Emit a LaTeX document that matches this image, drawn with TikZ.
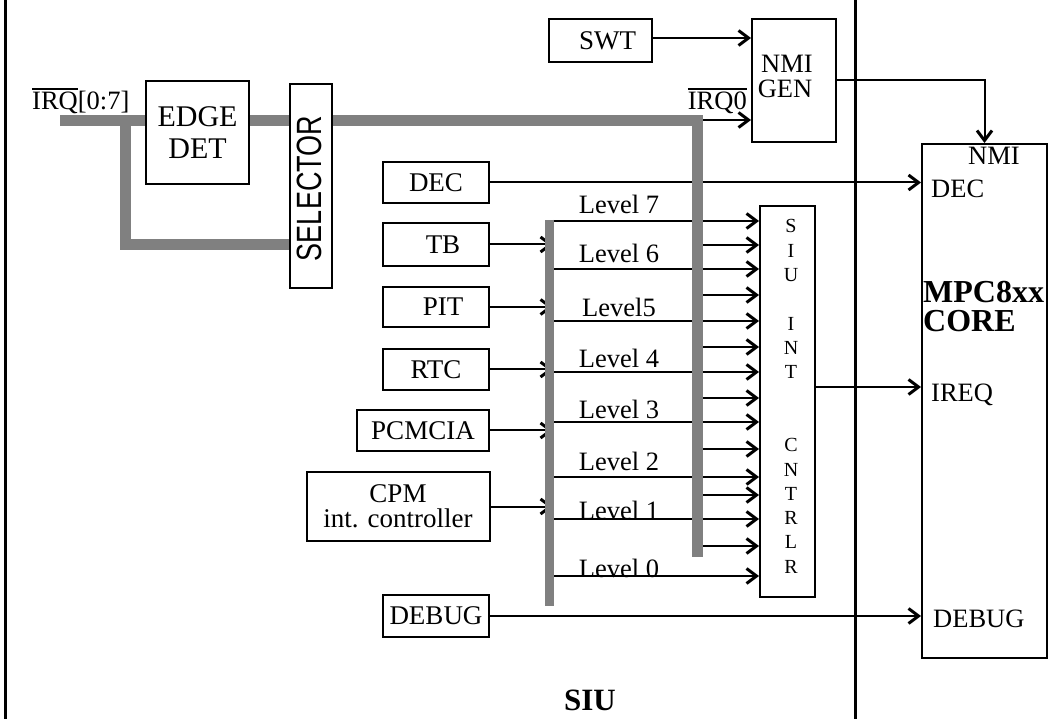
\documentclass[tikz,border=0pt]{standalone}
\usepackage{fontspec}
\setmainfont{Liberation Serif}
\setsansfont{Liberation Sans}
\usetikzlibrary{arrows.meta}
\definecolor{busgray}{RGB}{128,128,128}
\newcommand{\myovl}[1]{\leavevmode\vbox{\hrule height 1.8pt\kern 2.5pt\hbox{#1}}}
\begin{document}
\begin{tikzpicture}[x=1pt,y=-1pt,
  box/.style={draw, line width=2pt, inner sep=0pt, align=center, font=\fontsize{27}{25}\selectfont},
  arr/.style={line width=2pt, -{Straight Barb[length=10pt,width=15pt,line width=3pt]}},
  frame/.style={line width=3pt},
  bus/.style={busgray, line width=11pt, line join=miter},
  lbus/.style={busgray, line width=9pt},
  lbl/.style={inner sep=0pt, font=\fontsize{26.5}{26}\selectfont},
  big/.style={inner sep=0pt, font=\bfseries\fontsize{32}{32}\selectfont},
  siuch/.style={inner sep=0pt, anchor=base, font=\fontsize{20}{20}\selectfont},
]
\useasboundingbox (0,0) rectangle (1053,719);
% frame lines
\draw[frame] (5,0) -- (5,719);
\draw[frame] (855,0) -- (855,719);

% boxes
\node[box, minimum width=103pt, minimum height=43pt] (swt) at (600.5,40.5) {\hspace*{14pt}SWT};
\node[box, minimum width=84pt, minimum height=123pt] (nmi) at (794,80.5) {};
\node[lbl, anchor=base] (nmit1) at (787,73) {NMI};
\node[lbl, anchor=base] (nmit2) at (785,98) {GEN};
\node[box, minimum width=103pt, minimum height=103pt, font=\fontsize{30}{32}\selectfont] (edge) at (197.5,132.5) {EDGE\\DET};
\node[box, minimum width=42pt, minimum height=204pt] (sel) at (311,186) {};
\node[rotate=90, inner sep=0pt, font=\sffamily\fontsize{27}{27}\selectfont] (selt) at (309,188.5) {\scalebox{1}[1.3]{SELECTOR}};
\node[box, minimum width=106pt, minimum height=41pt] (dec) at (436,182.5) {DEC};
\node[box, minimum width=106pt, minimum height=43pt] (tb) at (436,244.5) {\hspace*{14pt}TB};
\node[box, minimum width=106pt, minimum height=40pt] (pit) at (436,307) {\hspace*{14pt}PIT};
\node[box, minimum width=106pt, minimum height=41pt] (rtc) at (436,369.5) {RTC};
\node[box, minimum width=132pt, minimum height=41pt] (pcm) at (423,430.5) {PCMCIA};
\node[box, minimum width=183pt, minimum height=69pt] (cpm) at (398,506.5) {CPM\\int. controller};
\node[box, minimum width=106pt, minimum height=42pt] (dbg) at (436,616) {DEBUG};
\node[box, minimum width=55pt, minimum height=391pt] (siu) at (787.5,401.5) {};
\node[box, minimum width=125pt, minimum height=514pt] (core) at (984.5,401) {};

% SIU INT CNTRLR letters
\foreach \l/\i in {S/0,I/1,U/2,I/4,N/5,T/6,C/9,N/10,T/11,R/12,L/13,R/14}
  \node[siuch] (siuL\i) at (791,233+\i*24.3) {\l};

% core labels
\node[lbl, anchor=base] (cnmi) at (994,165) {NMI};
\node[lbl, anchor=base west] (cdec) at (931,198) {DEC};
\node[big, anchor=base west] (cmpc) at (923,303) {MPC8xx};
\node[big, anchor=base west] (ccore) at (923,332) {CORE};
\node[lbl, anchor=base west] (cireq) at (931,402) {IREQ};
\node[lbl, anchor=base west] (cdbg) at (933,627) {DEBUG};
\node[inner sep=0pt, anchor=base, font=\bfseries\fontsize{31}{31}\selectfont] (siulbl) at (590,710) {SIU};

% IRQ labels
\node[lbl, anchor=base west] (irqlbl) at (32,110) {\myovl{IRQ}[0:7]};
\node[lbl, anchor=base east] (irq0lbl) at (747,110) {\myovl{IRQ0}};

% coordinates of buses
\coordinate (irqin) at (60,121);
\coordinate (tap) at (125,121);
\coordinate (irqcorner) at (697,121);
\coordinate (irqbot) at (697,557);
\coordinate (lbtop) at (549,220);
\coordinate (lbbot) at (549,606);

% connectors
\draw[arr] (swt.east |- 0,38) -- (nmi.west |- 0,38);
\draw[arr] (701,120) -- (nmi.west |- 0,120);
\draw[arr] (nmi.east) -| (core.north);
\draw[arr] (dec.east) -- (core.west |- dec.east);
\draw[arr] (tb.east) -- (553,244.5);
\draw[arr] (pit.east) -- (553,307);
\draw[arr] (rtc.east) -- (553,369.5);
\draw[arr] (pcm.east) -- (553,430.5);
\draw[arr] (cpm.east) -- (553,506.5);
\draw[arr] (dbg.east) -- (core.west |- dbg.east);
\draw[arr] (siu.east |- 0,387) -- (core.west |- 0,387);

% level lines
\foreach \y in {221,269,321,372,422,477,519,576}
  \draw[arr] (553,\y) -- (siu.west |- 0,\y);
% IRQ1..7 lines
\foreach \y in {245,295,347,398,449,495,546}
  \draw[arr] (701,\y) -- (siu.west |- 0,\y);

% level labels
\node[lbl, anchor=base] (lv7) at (619,214) {Level 7};
\node[lbl, anchor=base] (lv6) at (619,263) {Level 6};
\node[lbl, anchor=base] (lv5) at (619,317) {Level5};
\node[lbl, anchor=base] (lv4) at (619,368) {Level 4};
\node[lbl, anchor=base] (lv3) at (619,418) {Level 3};
\node[lbl, anchor=base] (lv2) at (619,471) {Level 2};
\node[lbl, anchor=base] (lv1) at (619,519) {Level 1};
\node[lbl, anchor=base] (lv0) at (619,577) {Level 0};

% gray buses
\draw[bus] (irqin) -- (edge.west |- irqin);
\draw[bus] (edge.east |- irqin) -- (sel.west |- irqin);
\draw[bus] (sel.east |- irqin) -- (irqcorner) -- (irqbot);
\draw[bus] (tap) |- (sel.west |- 0,245);
\draw[lbus] (lbtop) -- (lbbot);
\end{tikzpicture}
\end{document}
